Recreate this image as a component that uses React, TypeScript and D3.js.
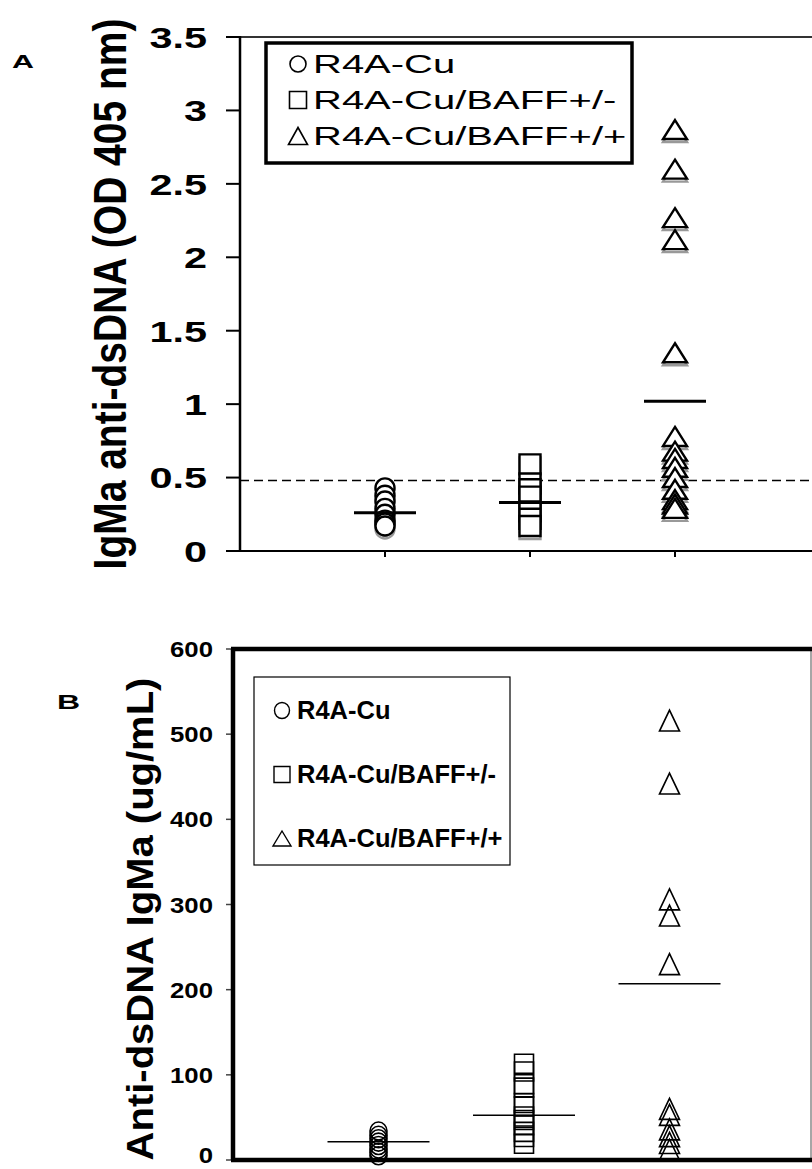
import React from "react";
import * as d3 from "d3";

// Groups shown in both panels
const categories = ["R4A-Cu", "R4A-Cu/BAFF+/-", "R4A-Cu/BAFF+/+"];

// Panel A: IgMa anti-dsDNA, OD 405 nm
const odCu = [0.43, 0.38, 0.34, 0.29, 0.25, 0.21, 0.19, 0.17];
const odHet = [0.59, 0.46, 0.42, 0.37, 0.27, 0.22, 0.17];
const odHom = [2.87, 2.6, 2.27, 2.12, 1.35, 0.78, 0.68, 0.63, 0.57, 0.5, 0.42, 0.35, 0.32, 0.29];
const odMeans = [0.26, 0.33, 1.02];
const odCutoff = 0.48;
const odTicks = [0, 0.5, 1, 1.5, 2, 2.5, 3, 3.5];

// Panel B: anti-dsDNA IgMa, ug/mL
const ugCu = [34, 29, 25, 21, 17, 13, 9, 5];
const ugHet = [113, 104, 89, 85, 67, 63, 51, 47, 41, 33, 27, 19];
const ugHom = [516, 442, 306, 287, 230, 60, 53, 36, 28, 20, 12];
const ugMeans = [21.5, 52.5, 207];
const ugTicks = [0, 100, 200, 300, 400, 500, 600];

const FONT = "'Liberation Sans', Arial, Helvetica, sans-serif";

type Shape = "circle" | "square" | "triangle";

function markerPath(shape: Shape, cx: number, cy: number, w: number, h: number): string {
  const p = d3.path();
  if (shape === "circle") {
    return `M${cx - w / 2},${cy}a${w / 2},${h / 2} 0 1,0 ${w},0a${w / 2},${h / 2} 0 1,0 ${-w},0Z`;
  }
  if (shape === "square") {
    p.rect(cx - w / 2, cy - h / 2, w, h);
    return p.toString();
  }
  p.moveTo(cx, cy - h / 2);
  p.lineTo(cx + w / 2, cy + h / 2);
  p.lineTo(cx - w / 2, cy + h / 2);
  p.closePath();
  return p.toString();
}

const shapes: Shape[] = ["circle", "square", "triangle"];

// Horizontally stretched text helper
function SText(props: {
  x: number;
  y: number;
  k: number;
  size: number;
  weight?: string | number;
  anchor?: "start" | "middle" | "end";
  rotate?: boolean;
  family?: string;
  children: React.ReactNode;
}) {
  const { x, y, k, size, weight = "bold", anchor = "start", rotate = false, family = FONT } = props;
  const t = `translate(${x},${y}) scale(${k},1)` + (rotate ? " rotate(-90)" : "");
  return (
    <text
      transform={t}
      fontFamily={family}
      fontSize={size}
      fontWeight={weight}
      textAnchor={anchor}
      fill="#000"
    >
      {props.children}
    </text>
  );
}

function PanelA() {
  const x = d3.scalePoint<string>().domain(categories).range([240, 820]).padding(1);
  const y = d3.scaleLinear().domain([0, 3.5]).range([551, 37]);
  const groups = [odCu, odHet, odHom];
  const sizes: [number, number][] = [
    [19, 19],
    [21, 20],
    [24, 19],
  ];
  return (
    <g>
      <SText x={12} y={68} k={1.6} size={19}>A</SText>
      {/* frame */}
      <line x1={240} x2={812} y1={y(3.5)} y2={y(3.5)} stroke="#333" strokeWidth={1.8} />
      <line x1={240} x2={240} y1={y(3.5) - 1} y2={y(0) + 1} stroke="#000" strokeWidth={2.5} />
      <line x1={240} x2={812} y1={y(0)} y2={y(0)} stroke="#000" strokeWidth={2} />
      {odTicks.map((t) => (
        <g key={t}>
          <line x1={226} x2={240} y1={y(t)} y2={y(t)} stroke="#000" strokeWidth={2} />
          <SText x={207} y={y(t) + 10.8} k={1.38} size={30} anchor="end">
            {String(t)}
          </SText>
        </g>
      ))}
      {categories.map((c) => (
        <line key={c} x1={x(c)} x2={x(c)} y1={y(0)} y2={y(0) + 6} stroke="#000" strokeWidth={2} />
      ))}
      <SText x={126} y={294} k={1.2} size={39} anchor="middle" rotate>
        IgMa anti-dsDNA (OD 405 nm)
      </SText>
      {/* cutoff */}
      <line
        x1={240}
        x2={812}
        y1={y(odCutoff)}
        y2={y(odCutoff)}
        stroke="#000"
        strokeWidth={1.6}
        strokeDasharray="9,5"
      />
      {/* points */}
      {groups.map((vals, gi) => {
        const cx = x(categories[gi]) as number;
        const [w, h] = sizes[gi];
        const sorted = [...vals].sort((a, b) => b - a);
        return (
          <g key={gi}>
            {sorted.map((v, i) => (
              <path key={"s" + i} d={markerPath(shapes[gi], cx, y(v) + 3, w, h)} fill="none" stroke="#999" strokeWidth={2.4} />
            ))}
            {sorted.map((v, i) => (
              <path key={"m" + i} d={markerPath(shapes[gi], cx, y(v), w, h)} fill="#fff" stroke="#000" strokeWidth={2.4} />
            ))}
          </g>
        );
      })}
      {odMeans.map((m, i) => {
        const cx = x(categories[i]) as number;
        return <line key={i} x1={cx - 31} x2={cx + 31} y1={y(m)} y2={y(m)} stroke="#000" strokeWidth={3} />;
      })}
      {/* legend */}
      <rect x={266} y={43} width={366} height={120} fill="#fff" stroke="#000" strokeWidth={3.5} />
      {categories.map((c, i) => {
        const cy = 64 + i * 36;
        const dims: [number, number][] = [
          [16, 16],
          [17, 17],
          [19, 17],
        ];
        return (
          <g key={c}>
            <path d={markerPath(shapes[i], 298, cy, dims[i][0], dims[i][1])} fill="none" stroke="#000" strokeWidth={1.6} />
            <SText x={313} y={cy + 9} k={1.6} size={25} weight="normal">
              {c}
            </SText>
          </g>
        );
      })}
    </g>
  );
}

function PanelB() {
  const x = d3.scalePoint<string>().domain(categories).range([233, 815]).padding(1);
  const y = d3.scaleLinear().domain([0, 600]).range([1160, 649]);
  const groups = [ugCu, ugHet, ugHom];
  const sizes: [number, number][] = [
    [17, 18],
    [19, 19],
    [20, 21],
  ];
  return (
    <g>
      <SText x={57} y={709} k={1.6} size={20}>B</SText>
      {ugTicks.map((t) => (
        <g key={t}>
          <line x1={226} x2={233} y1={y(t)} y2={y(t)} stroke="#444" strokeWidth={1.5} />
          <SText x={213} y={Math.min(y(t) + 8, 1163)} k={1.12} size={23} anchor="end">
            {String(t)}
          </SText>
        </g>
      ))}
      <SText x={153} y={919} k={0.9} size={40} anchor="middle" rotate>
        Anti-dsDNA IgMa (ug/mL)
      </SText>
      {/* points */}
      {groups.map((vals, gi) => {
        const cx = x(categories[gi]) as number;
        const [w, h] = sizes[gi];
        return (
          <g key={gi}>
            {vals.map((v, i) => (
              <path key={i} d={markerPath(shapes[gi], cx, y(v), w, h)} fill="none" stroke="#000" strokeWidth={1.6} />
            ))}
          </g>
        );
      })}
      {ugMeans.map((m, i) => {
        const cx = x(categories[i]) as number;
        return <line key={i} x1={cx - 51} x2={cx + 51} y1={y(m)} y2={y(m)} stroke="#000" strokeWidth={1.5} />;
      })}
      {/* frame */}
      <line x1={811} x2={811} y1={y(600)} y2={y(0)} stroke="#888" strokeWidth={1.5} />
      <line x1={231} x2={812} y1={y(600)} y2={y(600)} stroke="#000" strokeWidth={4.5} />
      <line x1={233} x2={233} y1={y(600)} y2={y(0)} stroke="#000" strokeWidth={4.5} />
      <line x1={231} x2={812} y1={y(0)} y2={y(0)} stroke="#000" strokeWidth={4.5} />
      {/* legend */}
      <rect x={254} y={677} width={256} height={188} fill="#fff" stroke="#000" strokeWidth={1.2} />
      {categories.map((c, i) => {
        const base = [719, 783, 847][i];
        const cy = base - 8.5;
        const dims: [number, number][] = [
          [15, 16],
          [16, 16],
          [18, 15],
        ];
        return (
          <g key={c}>
            <path d={markerPath(shapes[i], 282, cy, dims[i][0], dims[i][1])} fill="none" stroke="#000" strokeWidth={1.4} />
            <SText x={297} y={base} k={1.02} size={25}>
              {c}
            </SText>
          </g>
        );
      })}
    </g>
  );
}

export default function App() {
  return (
    <svg
      width={812}
      height={1169}
      viewBox="0 0 812 1169"
      style={{ position: "absolute", left: 0, top: 0, display: "block", background: "#fff" }}
    >
      <rect x={0} y={0} width={812} height={1169} fill="#fff" />
      <PanelA />
      <PanelB />
    </svg>
  );
}
